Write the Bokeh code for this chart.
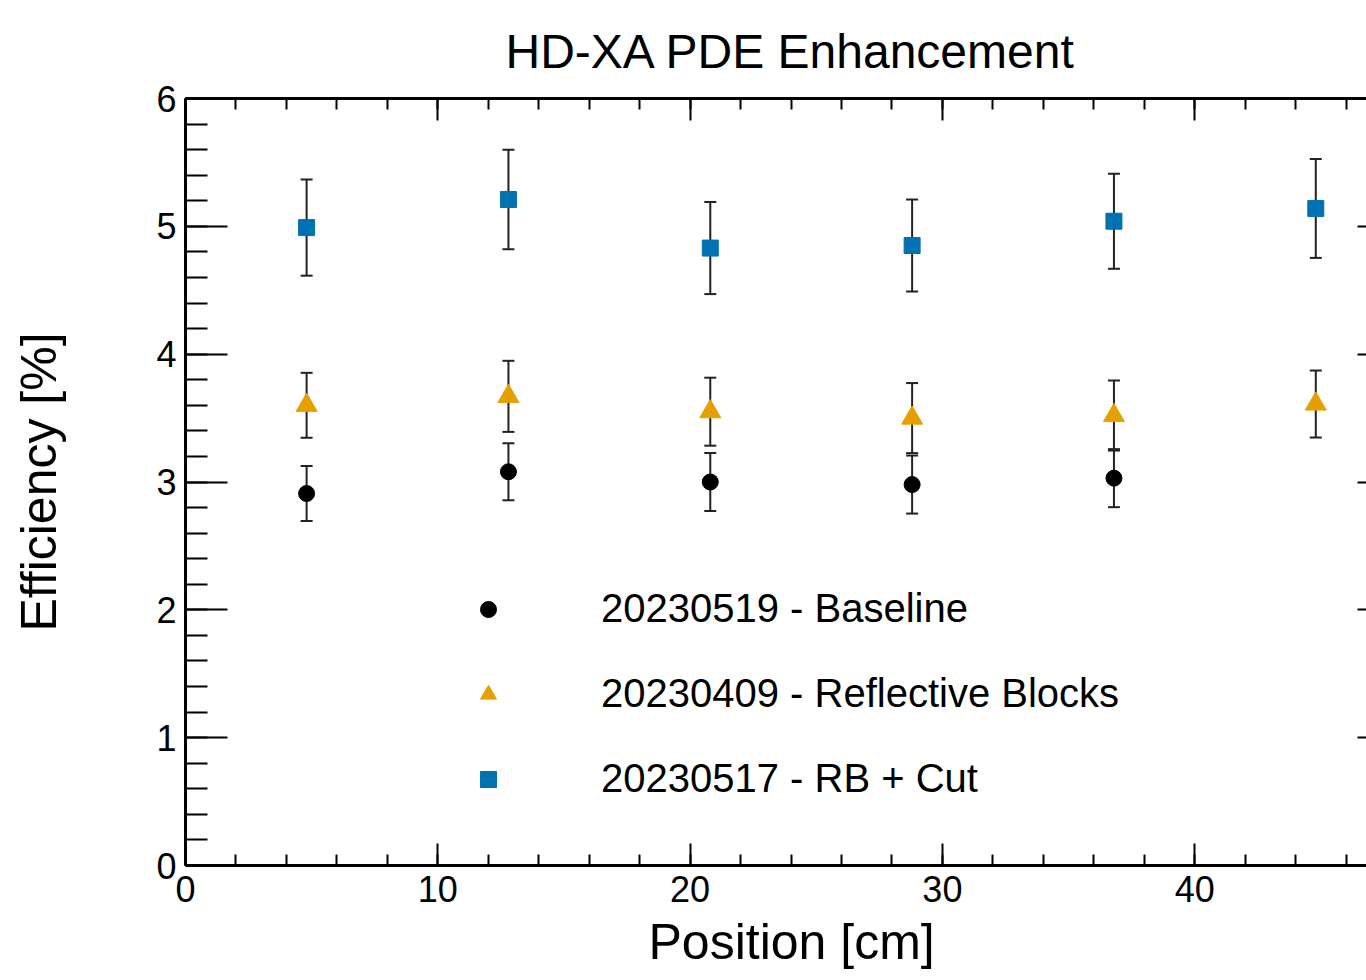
from bokeh.plotting import figure
from bokeh.models import (Range1d, LinearAxis, Whisker, ColumnDataSource, Legend,
                          LegendItem, SingleIntervalTicker, TeeHead, Title)
from bokeh.embed import file_html
from bokeh.resources import INLINE

# ---- data ----
positions = [4.8, 12.8, 20.8, 28.8, 36.8, 44.8]

baseline_pos = [4.8, 12.8, 20.8, 28.8, 36.8]
baseline = [2.91, 3.08, 3.00, 2.98, 3.03]
baseline_err = [0.215, 0.223, 0.227, 0.227, 0.227]

reflective = [3.60, 3.67, 3.55, 3.50, 3.52, 3.61]
reflective_err = [0.254, 0.278, 0.266, 0.274, 0.274, 0.262]

rbcut = [4.99, 5.21, 4.83, 4.85, 5.04, 5.14]
rbcut_err = [0.376, 0.39, 0.36, 0.36, 0.372, 0.387]

labels = ["20230519 - Baseline", "20230409 - Reflective Blocks", "20230517 - RB + Cut"]
colors = ["black", "#E69F00", "#0072B2"]

FONT = "Liberation Sans"

p = figure(width=1366, height=980, output_backend="svg", toolbar_location=None,
           x_range=Range1d(0, 46.81), y_range=Range1d(0, 6),
           x_axis_location=None, y_axis_location=None,
           min_border_left=185, min_border_right=0, min_border_top=98, min_border_bottom=115)
p.outline_line_color = None
p.background_fill_color = "white"
p.border_fill_color = "white"
p.xgrid.visible = False
p.ygrid.visible = False

xt = SingleIntervalTicker(interval=10, num_minor_ticks=5)
yt = SingleIntervalTicker(interval=1, num_minor_ticks=5)

def style(ax, tin, tmin, labels_on=True):
    ax.axis_line_color = "black"
    ax.axis_line_width = 3
    ax.major_tick_line_color = "black"
    ax.minor_tick_line_color = "black"
    ax.major_tick_line_width = 2
    ax.minor_tick_line_width = 2
    ax.major_tick_in = tin
    ax.major_tick_out = 0
    ax.minor_tick_in = tmin
    ax.minor_tick_out = 0
    ax.major_label_text_font = FONT
    if labels_on:
        ax.major_label_text_font_size = "36px"
        ax.major_label_text_color = "black"
    else:
        ax.major_label_text_font_size = "0px"
        ax.major_label_text_color = None
        ax.major_label_standoff = 0
    ax.axis_label_text_font = FONT
    ax.axis_label_text_font_style = "normal"
    ax.axis_label_text_font_size = "50px"
    ax.axis_label_text_color = "black"

xaxis = LinearAxis(ticker=xt)
style(xaxis, 22, 11)
xaxis.major_label_standoff = 10
p.add_layout(xaxis, "below")

yaxis = LinearAxis(ticker=yt, axis_label="Efficiency [%]")
style(yaxis, 42, 22)
yaxis.major_label_standoff = 9
yaxis.axis_label_standoff = 86
p.add_layout(yaxis, "left")

top = LinearAxis(ticker=xt)
style(top, 22, 11, labels_on=False)
p.add_layout(top, "above")

right = LinearAxis(ticker=yt)
style(right, 9, 0, labels_on=False)
right.axis_line_color = None
p.add_layout(right, "right")

p.title.text = "HD-XA PDE Enhancement"
p.title.text_font = FONT
p.title.text_font_style = "normal"
p.title.text_font_size = "48px"
p.title.text_color = "black"
p.title.align = "left"
p.title.offset = 320
p.title.standoff = 42

xlabel = Title(text="Position [cm]", align="left", offset=463, standoff=14,
               text_font=FONT, text_font_style="normal", text_font_size="50px",
               text_color="black")
p.add_layout(xlabel, "below")

def errbars(xs, ys, es):
    src = ColumnDataSource(dict(x=xs, lo=[y - e for y, e in zip(ys, es)],
                                hi=[y + e for y, e in zip(ys, es)]))
    w = Whisker(source=src, base="x", lower="lo", upper="hi", dimension="height",
                line_color="#222222", line_width=2,
                upper_head=TeeHead(size=12, line_color="#222222", line_width=2),
                lower_head=TeeHead(size=12, line_color="#222222", line_width=2))
    p.add_layout(w)

errbars(positions, rbcut, rbcut_err)
errbars(positions, reflective, reflective_err)
errbars(baseline_pos, baseline, baseline_err)

r_base = p.scatter(baseline_pos, baseline, marker="circle", size=16, color=colors[0])
r_refl = p.scatter(positions, reflective, marker="triangle", size=21, color=colors[1])
r_rb = p.scatter(positions, rbcut, marker="square", size=16, color=colors[2])

legend = Legend(items=[LegendItem(label=labels[0], renderers=[r_base]),
                       LegendItem(label=labels[1], renderers=[r_refl]),
                       LegendItem(label=labels[2], renderers=[r_rb])],
                location=(283, 64), orientation="vertical",
                glyph_width=40, glyph_height=40, label_standoff=93,
                spacing=40, padding=0, margin=0,
                label_text_font=FONT, label_text_font_size="40px",
                label_text_color="black",
                border_line_color=None, background_fill_alpha=0)
p.add_layout(legend, "center")

open("out.html", "w").write(file_html(p, INLINE))
